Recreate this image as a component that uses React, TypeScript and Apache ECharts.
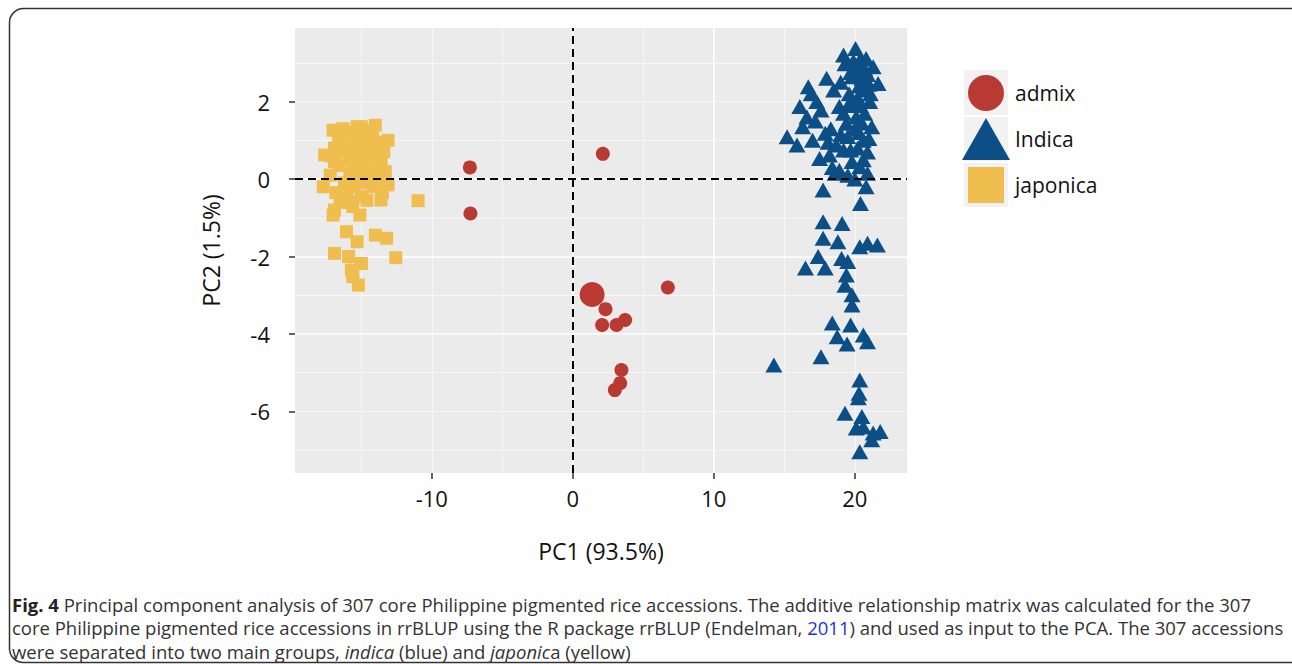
import React, { useEffect, useRef } from "react";
import * as echarts from "echarts";

// ---------- data ----------
const xTicks = [-10, 0, 10, 20];
const yTicks = [-6, -4, -2, 0, 2];
const legendNames = ["admix", "Indica", "japonica"];
const xTitle = "PC1 (93.5%)";
const yTitle = "PC2 (1.5%)";

// [PC1, PC2, sizeClass]
const admixPts = [
  [-7.3, 0.3, 1], [-7.26, -0.89, 1], [2.13, 0.65, 1], [1.37, -2.98, 2],
  [2.32, -3.36, 1], [6.74, -2.8, 1], [2.08, -3.77, 1], [3.1, -3.77, 1],
  [3.71, -3.64, 1], [3.45, -4.93, 1], [3.36, -5.27, 1], [2.98, -5.45, 1],
];

const indicaPts = [
  [19.2, 3.2], [20.05, 3.37], [20.8, 3.11], [21.3, 2.9], [21.65, 2.47], [18.0, 2.6],
  [19.3, 2.98], [16.7, 2.38], [16.1, 1.87], [15.2, 1.09], [15.9, 0.88], [17.3, 2.0],
  [17.6, 1.78], [18.5, 2.3], [18.9, 1.87], [19.8, 2.64], [20.35, 2.8], [20.6, 2.3],
  [21.06, 2.0], [19.4, 1.44], [20.1, 1.61], [21.2, 1.35], [20.6, 1.0], [16.3, 1.35],
  [17.0, 1.0], [17.9, 1.18], [18.7, 0.88], [17.5, 0.53], [18.2, 0.62], [19.2, 0.75],
  [19.8, 0.45], [20.35, 0.32], [18.9, 0.23], [18.6, 0.15], [17.75, -0.28], [20.8, -0.2],
  [20.4, -0.63], [20.0, 2.9], [20.5, 2.6], [19.6, 2.2], [20.9, 2.7], [20.2, 2.1],
  [19.9, 1.9], [20.7, 1.7], [19.0, 2.5], [20.4, 3.1], [21.0, 2.45], [19.5, 1.1],
  [20.2, 0.8], [20.9, 0.7], [16.6, 1.6], [17.2, 1.5], [18.3, 1.3], [16.9, 2.2],
  [18.4, 0.3], [19.5, 0.1], [20.0, 0.0], [20.6, 0.5],
  [20.3, 2.4], [19.7, 2.75], [21.1, 2.2], [20.0, 1.3], [20.3, 1.2], [19.2, 1.7],
  [21.0, 1.05], [20.4, 1.9], [19.7, 0.75], [20.9, 0.15], [19.9, 3.05], [20.7, 2.85],
  [18.1, 0.95], [19.0, 1.15], [20.5, 1.45], [19.6, 1.95],
  [17.75, -1.1], [19.1, -1.15], [17.75, -1.53], [18.8, -1.62], [20.35, -1.75], [20.9, -1.66],
  [21.6, -1.7], [17.4, -2.0], [16.5, -2.3], [17.9, -2.3], [19.06, -2.05], [19.5, -2.13],
  [19.4, -2.48], [19.3, -2.74], [19.8, -2.99], [19.8, -3.25], [18.4, -3.72], [19.7, -3.77],
  [18.75, -4.07], [19.45, -4.26], [20.6, -4.03], [20.9, -4.2], [17.6, -4.59], [14.26, -4.8],
  [20.35, -5.19], [20.3, -5.53], [20.25, -5.65], [19.3, -6.05], [20.5, -6.13], [20.1, -6.43],
  [20.6, -6.4], [21.3, -6.56], [21.8, -6.52], [21.2, -6.73], [20.35, -7.04],
];

const japonicaPts = [
  [-17.7, -0.2], [-10.97, -0.56], [-13.6, -0.54], [-13.1, -0.15], [-13.3, 0.19], [-13.1, 1.0],
  [-13.4, 0.7], [-14.0, 1.39], [-15.3, 1.35], [-17.0, 1.26], [-17.6, 0.62], [-16.9, -0.8],
  [-17.0, -0.93], [-15.6, -0.71], [-15.1, -0.93], [-16.05, -1.36], [-15.3, -1.62], [-14.0, -1.45],
  [-13.2, -1.53], [-12.55, -2.03], [-16.9, -1.92], [-15.9, -2.0], [-14.99, -2.18], [-15.7, -2.35],
  [-15.6, -2.52], [-15.2, -2.74],
  [-16.6, 1.0], [-16.1, 1.15], [-15.6, 0.95], [-15.0, 1.1], [-14.5, 1.0], [-14.3, 1.25],
  [-14.8, 0.6], [-15.8, 0.5], [-16.6, 0.35], [-17.2, 0.1], [-15.2, 0.25], [-14.5, 0.3],
  [-14.0, 0.55], [-13.8, 0.1], [-16.2, -0.1], [-15.5, -0.2], [-14.8, -0.1], [-14.2, -0.2],
  [-15.0, -0.45], [-16.0, -0.4], [-14.6, -0.55], [-13.9, 0.95], [-15.7, 1.2], [-16.9, 0.8],
  [-16.4, 0.7], [-15.3, 0.7], [-14.2, 0.8], [-16.8, -0.35], [-15.9, -0.6], [-14.9, 0.4],
  [-16.3, 1.3], [-15.0, 1.35], [-14.6, 0.05], [-13.6, 0.4], [-16.5, -0.6], [-15.3, -0.05],
  [-15.8, 0.15], [-14.2, 1.05], [-16.9, 0.45], [-13.5, -0.35], [-15.1, 0.85], [-14.0, -0.05],
  [-17.2, 0.6], [-16.0, 0.8], [-15.5, 0.45],
];

const captionLines = [
  "{b|Fig. 4} Principal component analysis of 307 core Philippine pigmented rice accessions. The additive relationship matrix was calculated for the 307",
  "core Philippine pigmented rice accessions in rrBLUP using the R package rrBLUP (Endelman, {l|2011}) and used as input to the PCA. The 307 accessions",
  "were separated into two main groups, {i|indica} (blue) and {i|japonic}a (yellow)",
];

// ---------- style ----------
const FONT = "'Open Sans', 'Noto Sans', sans-serif";
const CAP = 18.5;
const RED = "#B83A32";
const BLUE = "#0C4F86";
const YELLOW = "#EFBE4F";
const X_MIN = -19.7, X_MAX = 23.7, Y_MIN = -7.59, Y_MAX = 3.9;

export default function App() {
  const ref = useRef<HTMLDivElement>(null);
  useEffect(() => {
    if (!ref.current) return;
    const chart = echarts.init(ref.current, null, { renderer: "svg" });
    const gridLine = { show: true, showMinLine: false, showMaxLine: false };
    const option: any = {
      animation: false,
      backgroundColor: "#ffffff",
      grid: { left: 295, top: 28, width: 612, height: 445, show: true, backgroundColor: "#EBEBEB", borderWidth: 0 },
      xAxis: [
        {
          type: "value", min: X_MIN, max: X_MAX, minInterval: 10, maxInterval: 10, splitNumber: 4,
          axisLine: { show: false, onZero: false },
          axisTick: { show: true, length: 6, customValues: xTicks, lineStyle: { color: "#333", width: 1.5 } },
          axisLabel: { customValues: xTicks, color: "#111", fontSize: 22, fontFamily: FONT, margin: 14 },
          splitLine: { ...gridLine, lineStyle: { color: "#ffffff", width: 2 } },
          name: xTitle, nameLocation: "middle", nameGap: 66,
          nameTextStyle: { color: "#111", fontSize: 23, fontFamily: FONT },
        },
        {
          type: "value", position: "top", min: X_MIN, max: X_MAX, minInterval: 5, maxInterval: 5, splitNumber: 9,
          axisLine: { show: false, onZero: false }, axisTick: { show: false }, axisLabel: { show: false },
          splitLine: { ...gridLine, lineStyle: { color: "#F7F7F7", width: 1 } },
        },
      ],
      yAxis: [
        {
          type: "value", min: Y_MIN, max: Y_MAX, minInterval: 2, maxInterval: 2, splitNumber: 5,
          axisLine: { show: false, onZero: false },
          axisTick: { show: true, length: 6, customValues: yTicks, lineStyle: { color: "#333", width: 1.5 } },
          axisLabel: { customValues: yTicks, color: "#111", fontSize: 22, fontFamily: FONT, margin: 25 },
          splitLine: { ...gridLine, lineStyle: { color: "#ffffff", width: 2 } },
          name: yTitle, nameLocation: "middle", nameGap: 73, nameRotate: 90,
          nameTextStyle: { color: "#111", fontSize: 23, fontFamily: FONT },
        },
        {
          type: "value", position: "right", min: Y_MIN, max: Y_MAX, minInterval: 1, maxInterval: 1, splitNumber: 11,
          axisLine: { show: false, onZero: false }, axisTick: { show: false }, axisLabel: { show: false },
          splitLine: { ...gridLine, lineStyle: { color: "#F7F7F7", width: 1 } },
        },
      ],
      legend: {
        orient: "vertical", left: 962, top: 72, padding: 0, itemWidth: 48, itemHeight: 42, itemGap: 4,
        selectedMode: false, z: 5,
        data: [
          { name: legendNames[0], icon: "path://M0,0M48,42M6,21A18,18,0,1,1,42,21A18,18,0,1,1,6,21Z" },
          { name: legendNames[1], icon: "path://M24,0L48,42L0,42Z" },
          { name: legendNames[2], icon: "path://M0,0M48,42M6,3L42,3L42,39L6,39Z" },
        ],
        textStyle: { color: "#111", fontSize: 21, fontFamily: FONT },
      },
      series: [
        {
          name: legendNames[2], type: "scatter", data: japonicaPts, symbol: "rect", symbolSize: 13,
          itemStyle: { color: YELLOW, opacity: 1 }, z: 2,
        },
        {
          name: legendNames[1], type: "scatter", data: indicaPts, symbol: "triangle", symbolSize: [17, 15],
          itemStyle: { color: BLUE, opacity: 1 }, z: 2,
        },
        {
          name: legendNames[0], type: "scatter", data: admixPts, symbol: "circle",
          symbolSize: (v: number[]) => (v[2] > 1 ? 25 : 14),
          itemStyle: { color: RED, opacity: 1 }, z: 2,
        },
        {
          name: "ref", type: "scatter", data: [], z: 10, silent: true,
          markLine: {
            silent: true, symbol: ["none", "none"], label: { show: false },
            lineStyle: { color: "#000", width: 2, type: [8, 5] },
            data: [{ xAxis: 0 }, { yAxis: 0 }],
          },
        },
      ],
      graphic: [
        { type: "rect", z: 0, silent: true, shape: { x: 9.5, y: 8.5, width: 1300, height: 654, r: 14 }, style: { fill: "none", stroke: "#333", lineWidth: 1.5 } },
        { type: "rect", z: 0, silent: true, shape: { x: 964, y: 70, width: 44, height: 45 }, style: { fill: "#F2F2F2" } },
        { type: "rect", z: 0, silent: true, shape: { x: 964, y: 117, width: 44, height: 44 }, style: { fill: "#F2F2F2" } },
        { type: "rect", z: 0, silent: true, shape: { x: 964, y: 163, width: 44, height: 44 }, style: { fill: "#F2F2F2" } },
        ...captionLines.map((t, i) => ({
          type: "text", x: 12, y: 604 + i * 23.5, silent: true,
          style: {
            text: t, align: "left", verticalAlign: "middle", fill: "#333", fontSize: CAP, fontFamily: FONT,
            rich: {
              b: { fontWeight: "bold", fill: "#222", fontSize: CAP, fontFamily: FONT },
              i: { fontStyle: "italic", fill: "#333", fontSize: CAP, fontFamily: FONT },
              l: { fill: "#2233DD", fontSize: CAP, fontFamily: FONT },
            },
          },
        })),
      ],
    };
    chart.setOption(option);
    return () => chart.dispose();
  }, []);
  return <div ref={ref} style={{ position: "absolute", left: 0, top: 0, width: 1292, height: 664 }} />;
}
